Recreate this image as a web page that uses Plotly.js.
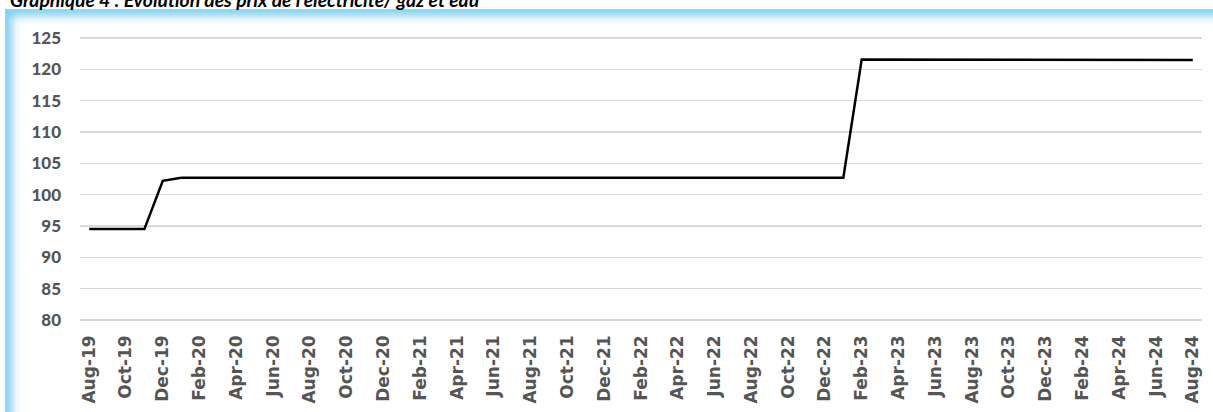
<!DOCTYPE html>
<html>
<head>
<meta charset="utf-8">
<script src="https://cdn.plot.ly/plotly-3.0.1.min.js"></script>
<style>
  html, body { margin: 0; padding: 0; background: #ffffff; overflow: hidden; }
  #frame {
    position: absolute; left: 5px; top: 9px; width: 1230px; height: 430px;
    border: 1px solid #c9c9c9; box-sizing: border-box; background: #ffffff;
    box-shadow: inset 9px 9px 10px -3px rgba(120, 205, 240, 0.95);
  }
  #chart { position: absolute; left: 0; top: 0; width: 1213px; height: 412px; }
</style>
</head>
<body>
<div id="frame"></div>
<div id="chart"></div>
<script>
const months = [
  "Aug-19","Sep-19","Oct-19","Nov-19","Dec-19",
  "Jan-20","Feb-20","Mar-20","Apr-20","May-20","Jun-20","Jul-20","Aug-20","Sep-20","Oct-20","Nov-20","Dec-20",
  "Jan-21","Feb-21","Mar-21","Apr-21","May-21","Jun-21","Jul-21","Aug-21","Sep-21","Oct-21","Nov-21","Dec-21",
  "Jan-22","Feb-22","Mar-22","Apr-22","May-22","Jun-22","Jul-22","Aug-22","Sep-22","Oct-22","Nov-22","Dec-22",
  "Jan-23","Feb-23","Mar-23","Apr-23","May-23","Jun-23","Jul-23","Aug-23","Sep-23","Oct-23","Nov-23","Dec-23",
  "Jan-24","Feb-24","Mar-24","Apr-24","May-24","Jun-24","Jul-24","Aug-24"
];
const priceIndex = [
  94.5, 94.5, 94.5, 94.5, 102.2,
  102.7, 102.7, 102.7, 102.7, 102.7, 102.7, 102.7, 102.7, 102.7, 102.7, 102.7, 102.7,
  102.7, 102.7, 102.7, 102.7, 102.7, 102.7, 102.7, 102.7, 102.7, 102.7, 102.7, 102.7,
  102.7, 102.7, 102.7, 102.7, 102.7, 102.7, 102.7, 102.7, 102.7, 102.7, 102.7, 102.7,
  102.7, 121.6, 121.6, 121.6, 121.6, 121.6, 121.6, 121.6, 121.6, 121.6, 121.6, 121.6,
  121.5, 121.5, 121.5, 121.5, 121.5, 121.5, 121.5, 121.5
];
const xTickLabels = [
  "Aug-19","Oct-19","Dec-19","Feb-20","Apr-20","Jun-20","Aug-20","Oct-20","Dec-20",
  "Feb-21","Apr-21","Jun-21","Aug-21","Oct-21","Dec-21","Feb-22","Apr-22","Jun-22",
  "Aug-22","Oct-22","Dec-22","Feb-23","Apr-23","Jun-23","Aug-23","Oct-23","Dec-23",
  "Feb-24","Apr-24","Jun-24","Aug-24"
];
const yTickValues = [80, 85, 90, 95, 100, 105, 110, 115, 120, 125];
const chartTitle = "Graphique 4 : Évolution des prix de l'électricité/ gaz et eau";

const trace = {
  type: "scatter", mode: "lines",
  x: months, y: priceIndex,
  line: { color: "#000000", width: 2.5 },
  hoverinfo: "skip"
};

const layout = {
  width: 1213, height: 412,
  margin: { l: 80, r: 11, t: 35, b: 89 },
  paper_bgcolor: "rgba(0,0,0,0)",
  plot_bgcolor: "rgba(0,0,0,0)",
  showlegend: false,
  xaxis: {
    type: "category",
    range: [-0.5, months.length - 0.5],
    tickmode: "array", tickvals: xTickLabels, ticktext: xTickLabels,
    tickangle: -90,
    showgrid: false, zeroline: false, showline: false, ticks: "",
    ticklabelstandoff: 8,
    tickfont: { family: "DejaVu Sans", size: 17, color: "#555555", weight: "bold" }
  },
  yaxis: {
    range: [79.5, 125.5],
    tickmode: "array", tickvals: yTickValues,
    showgrid: true, gridcolor: "#d9d9d9", gridwidth: 1.5,
    zeroline: false, showline: false, ticks: "",
    ticklabelstandoff: 18,
    tickfont: { family: "Lato", size: 17, color: "#555555", weight: 900 }
  },
  annotations: [{
    text: chartTitle,
    xref: "paper", yref: "paper",
    x: -72 / 1122, xanchor: "left",
    y: 1 + 35.3 / 288, yanchor: "middle",
    showarrow: false,
    font: { family: "Lato", size: 19.3, color: "#000000", weight: "bold", style: "italic" }
  }]
};

Plotly.newPlot("chart", [trace], layout, { displayModeBar: false, staticPlot: true });
</script>
</body>
</html>
